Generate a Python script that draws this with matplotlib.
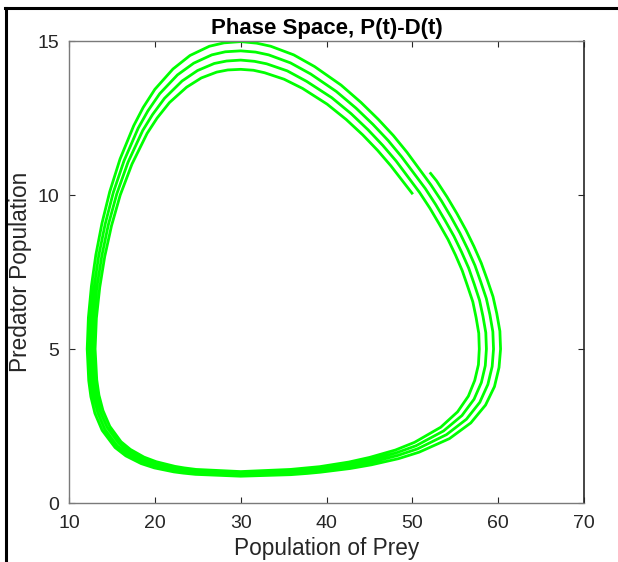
import matplotlib
matplotlib.use("Agg")
import matplotlib.pyplot as plt
from matplotlib.lines import Line2D

"""
Phase Space, P(t)-D(t) : trajectoire proie / prédateur (4 tours en spirale)
"""

# --- données : un tableau par tour de la spirale ---
prey_loop1 = [49.96, 47.49, 45.95, 44.23, 42.30, 40.07, 37.21, 35.05, 32.78, 31.49, 30.00, 28.50,
              27.21, 25.41, 23.70, 21.70, 20.27, 19.10, 17.33, 15.97, 14.95, 14.16, 13.58, 13.19,
              13.04, 13.23, 13.49, 13.96, 14.75, 16.06, 17.15, 18.74, 20.17, 22.34, 23.41, 24.80,
              30.00, 35.80, 37.71, 39.21, 42.61, 45.02, 48.03, 50.26, 53.31, 55.27, 56.53, 57.27,
              57.70, 57.80, 57.74, 57.43, 57.05, 56.45, 55.82, 55.03, 54.15, 53.13, 52.05]
pred_loop1 = [10.06, 10.95, 11.45, 11.95, 12.45, 12.95, 13.46, 13.76, 13.97, 14.05, 14.08, 14.06,
              13.99, 13.80, 13.50, 13.00, 12.50, 12.00, 11.00, 10.00, 9.00, 8.00, 7.00, 6.00,
              5.00, 4.00, 3.50, 3.00, 2.49, 1.99, 1.74, 1.49, 1.34, 1.19, 1.14, 1.09,
              1.02, 1.09, 1.14, 1.18, 1.33, 1.48, 1.72, 1.97, 2.46, 2.96, 3.47, 3.98,
              4.49, 5.00, 5.51, 6.02, 6.53, 7.03, 7.54, 8.05, 8.56, 9.06, 9.57]

prey_loop2 = [50.85, 48.12, 46.56, 44.83, 42.87, 40.61, 37.68, 35.43, 33.02, 31.61, 30.00, 28.36,
              26.92, 24.97, 23.17, 21.13, 19.73, 18.58, 16.87, 15.57, 14.58, 13.82, 13.25, 12.88,
              12.74, 12.92, 13.18, 13.65, 14.45, 15.83, 16.97, 18.63, 20.09, 22.30, 23.38, 24.78,
              30.00, 35.82, 37.73, 39.24, 42.66, 45.09, 48.15, 50.44, 53.64, 55.78, 57.19, 58.04,
              58.50, 58.63, 58.56, 58.23, 57.83, 57.21, 56.56, 55.75, 54.85, 53.82, 52.72]
pred_loop2 = [10.08, 11.10, 11.61, 12.12, 12.64, 13.16, 13.69, 14.03, 14.26, 14.34, 14.38, 14.35,
              14.27, 14.04, 13.70, 13.14, 12.61, 12.09, 11.06, 10.04, 9.03, 8.02, 7.01, 6.01,
              5.00, 3.99, 3.48, 2.97, 2.45, 1.93, 1.67, 1.42, 1.27, 1.13, 1.08, 1.03,
              0.97, 1.03, 1.08, 1.12, 1.26, 1.40, 1.63, 1.86, 2.34, 2.84, 3.37, 3.91,
              4.46, 5.00, 5.53, 6.06, 6.58, 7.11, 7.63, 8.14, 8.66, 9.17, 9.69]

prey_loop3 = [51.51, 48.75, 47.18, 45.42, 43.44, 41.15, 38.15, 35.80, 33.26, 31.74, 30.00, 28.21,
              26.64, 24.53, 22.64, 20.57, 19.19, 18.06, 16.41, 15.16, 14.21, 13.47, 12.93, 12.57,
              12.43, 12.61, 12.87, 13.34, 14.16, 15.60, 16.80, 18.52, 20.02, 22.26, 23.35, 24.75,
              30.00, 35.84, 37.75, 39.26, 42.71, 45.16, 48.27, 50.62, 53.98, 56.30, 57.86, 58.80,
              59.30, 59.46, 59.38, 59.04, 58.62, 57.97, 57.30, 56.46, 55.55, 54.50, 53.39]
pred_loop3 = [10.21, 11.24, 11.77, 12.29, 12.82, 13.36, 13.93, 14.29, 14.55, 14.64, 14.68, 14.65,
              14.55, 14.28, 13.90, 13.29, 12.73, 12.17, 11.11, 10.08, 9.05, 8.04, 7.02, 6.01,
              5.00, 3.98, 3.46, 2.94, 2.40, 1.86, 1.60, 1.35, 1.21, 1.07, 1.02, 0.98,
              0.92, 0.98, 1.02, 1.06, 1.19, 1.32, 1.54, 1.76, 2.22, 2.72, 3.27, 3.85,
              4.43, 5.00, 5.56, 6.11, 6.64, 7.18, 7.71, 8.24, 8.76, 9.29, 9.81]

prey_loop4 = [52.16, 49.37, 47.79, 46.02, 44.00, 41.69, 38.61, 36.18, 33.50, 31.86, 30.00, 28.06,
              26.36, 24.10, 22.11, 20.00, 18.64, 17.54, 15.95, 14.75, 13.84, 13.13, 12.61, 12.26,
              12.12, 12.30, 12.55, 13.02, 13.86, 15.37, 16.62, 18.40, 19.94, 22.22, 23.32, 24.73,
              30.00, 35.85, 37.77, 39.29, 42.76, 45.23, 48.39, 50.79, 54.32, 56.81, 58.53, 59.57,
              60.10, 60.28, 60.20, 59.84, 59.40, 58.73, 58.03, 57.18, 56.25, 55.19, 54.06]
pred_loop4 = [10.33, 11.39, 11.93, 12.46, 13.01, 13.57, 14.17, 14.55, 14.83, 14.93, 14.98, 14.94,
              14.83, 14.53, 14.09, 13.43, 12.84, 12.25, 11.17, 10.11, 9.08, 8.06, 7.04, 6.02,
              5.00, 3.97, 3.45, 2.91, 2.36, 1.80, 1.53, 1.28, 1.14, 1.01, 0.97, 0.93,
              0.87, 0.92, 0.96, 1.00, 1.12, 1.24, 1.44, 1.65, 2.09, 2.60, 3.18, 3.78,
              4.40, 5.00, 5.58, 6.15, 6.70, 7.25, 7.79, 8.33, 8.86, 9.40, 9.93]

prey_end = [52.82, 52.13]
pred_end = [10.46, 10.70]

x_ticks = [10, 20, 30, 40, 50, 60, 70]
y_ticks = [0, 5, 10, 15]


def drawing():
    plt.rcParams['font.family'] = ['Liberation Sans', 'DejaVu Sans']

    fig = plt.figure(figsize=(6.18, 5.62), dpi=100)
    ax = fig.add_axes([69 / 618, 59 / 562, 515 / 618, 462 / 562])  # zone du tracé en pixels

    prey = prey_loop1 + prey_loop2 + prey_loop3 + prey_loop4 + prey_end
    pred = pred_loop1 + pred_loop2 + pred_loop3 + pred_loop4 + pred_end
    ax.plot(prey, pred, color=(0, 1, 0), linewidth=2, solid_joinstyle='round')

    ax.set_xlim(10, 70)
    ax.set_ylim(0, 15)
    ax.set_xticks(x_ticks)
    ax.set_yticks(y_ticks)

    # graduations vers l'intérieur sur les 4 côtés, façon MATLAB
    ax.tick_params(direction='in', top=True, right=True, length=4, width=0.8,
                   color='#262626', labelcolor='#262626', labelsize=14)
    ax.tick_params(axis='x', pad=9)
    ax.tick_params(axis='y', pad=7)
    for side in ['left', 'bottom', 'top']:
        ax.spines[side].set_color('#7a7a7a')
        ax.spines[side].set_linewidth(1.0)
    ax.spines['right'].set_color('#262626')
    ax.spines['right'].set_linewidth(1.2)

    ax.set_title("Phase Space, P(t)-D(t)", fontsize=16, fontweight='bold', pad=5)
    ax.set_xlabel("Population of Prey", fontsize=16.3, color='#262626', labelpad=3.5)
    ax.set_ylabel("Predator Population", fontsize=16.3, color='#262626', labelpad=4)

    # cadre noir de la capture (gauche et haut)
    fig.add_artist(Line2D([5.5 / 618, 5.5 / 618], [0, 1 - 7.5 / 562],
                          color='black', linewidth=2.2, transform=fig.transFigure))
    fig.add_artist(Line2D([4.5 / 618, 1], [1 - 7.5 / 562, 1 - 7.5 / 562],
                          color='black', linewidth=2.2, transform=fig.transFigure))

    plt.savefig("out.png", dpi=100)
    plt.close()


if __name__ == '__main__':
    drawing()
